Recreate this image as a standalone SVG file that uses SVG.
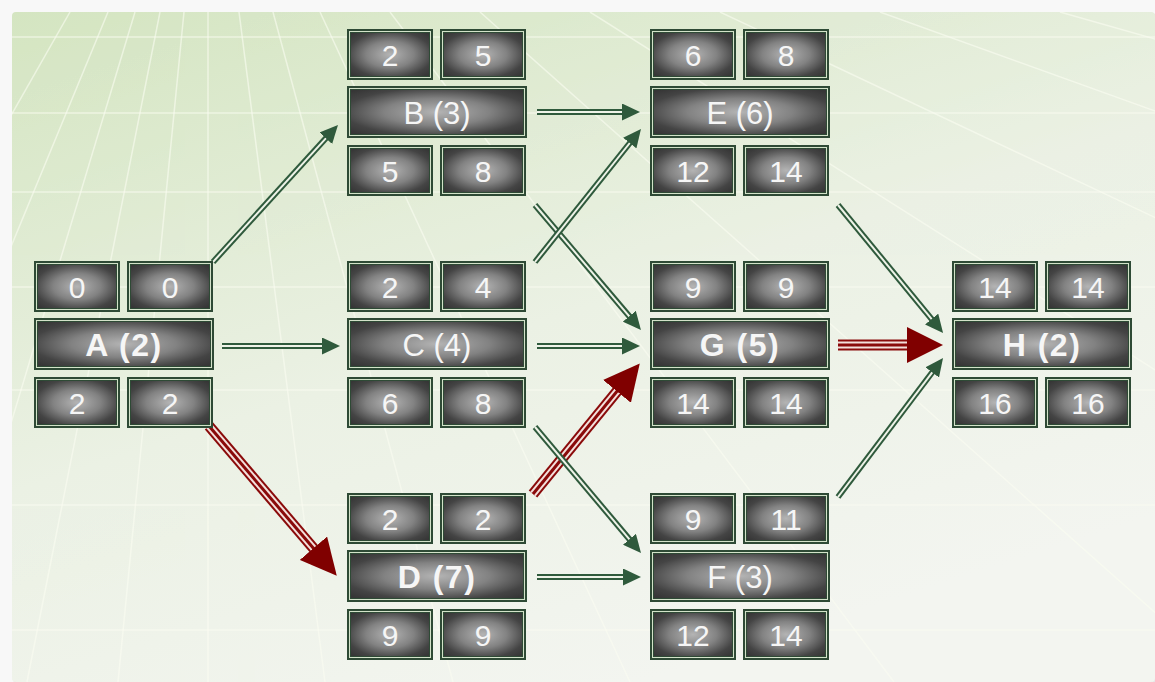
<svg xmlns="http://www.w3.org/2000/svg" width="1155" height="682" viewBox="0 0 1155 682">
<style>
.num{font-family:"Liberation Sans",Arial,sans-serif;font-size:30px;fill:#f6f6f6;text-anchor:middle}
.lbl{font-family:"Liberation Sans",Arial,sans-serif;font-size:31px;fill:#f6f6f6;text-anchor:middle}
.crit{font-weight:bold;font-size:32px;letter-spacing:1.5px}
.grid line{stroke:#fbfdf2;stroke-width:1.5;opacity:0.6}
.go{stroke:#2f5a3c;stroke-width:6;fill:none}
.gi{stroke:#eef3e8;stroke-width:2;fill:none}
.ro{stroke:#8a0a0a;stroke-width:11;fill:none}
.ri{stroke:#f3e0dc;stroke-width:7;fill:none}
.rc{stroke:#8a0a0a;stroke-width:3;fill:none}
</style>
<defs>
<linearGradient id="bg" x1="0" y1="0" x2="0.55" y2="1">
<stop offset="0" stop-color="#d4e5c1"/>
<stop offset="0.55" stop-color="#ebf1e4"/>
<stop offset="1" stop-color="#f3f5f0"/>
</linearGradient>
<radialGradient id="gs" cx="0.5" cy="0.5" r="0.68">
<stop offset="0" stop-color="#b4b4b4"/>
<stop offset="0.45" stop-color="#828282"/>
<stop offset="0.8" stop-color="#444444"/>
<stop offset="1" stop-color="#363636"/>
</radialGradient>
<clipPath id="pc"><rect x="12" y="12" width="1143" height="670" rx="4"/></clipPath>
<g id="sbox">
<rect width="86" height="51" fill="#2e4a35"/>
<rect x="2.5" y="2.5" width="81" height="46" fill="none" stroke="#d3e2c9" stroke-width="1"/>
<rect x="4" y="4" width="78" height="43" fill="url(#gs)"/>
</g>
<g id="wbox">
<rect width="180" height="52" fill="#2e4a35"/>
<rect x="2.5" y="2.5" width="175" height="47" fill="none" stroke="#d3e2c9" stroke-width="1"/>
<rect x="4" y="4" width="172" height="44" fill="url(#gs)"/>
</g>
<marker id="ag" markerUnits="userSpaceOnUse" markerWidth="18" markerHeight="17" viewBox="0 0 18 17" refX="2" refY="8.5" orient="auto">
<path d="M0,0 L18,8.5 L0,17 Z" fill="#2f5a3c"/>
</marker>
<marker id="ar" markerUnits="userSpaceOnUse" markerWidth="36" markerHeight="36" viewBox="0 0 36 36" refX="4" refY="18" orient="auto">
<path d="M0,0 L36,18 L0,36 Z" fill="#800000"/>
</marker>
</defs>

<rect width="1155" height="682" fill="#f8f8f8"/>
<rect x="13" y="13" width="1143" height="670" rx="4" fill="#e6e6e6"/>
<rect x="12" y="12" width="1143" height="670" rx="4" fill="url(#bg)"/>

<g class="grid" clip-path="url(#pc)">
<line x1="70" y1="12" x2="-312" y2="682"/>
<line x1="108" y1="12" x2="-169" y2="682"/>
<line x1="135" y1="12" x2="-67" y2="682"/>
<line x1="160" y1="12" x2="27" y2="682"/>
<line x1="184" y1="12" x2="118" y2="682"/>
<line x1="208" y1="12" x2="208" y2="682"/>
<line x1="239" y1="12" x2="325" y2="682"/>
<line x1="273" y1="12" x2="453" y2="682"/>
<line x1="320" y1="12" x2="630" y2="682"/>
<line x1="390" y1="12" x2="894" y2="682"/>
<line x1="480" y1="12" x2="1233" y2="682" opacity="0.45"/>
<line x1="590" y1="12" x2="1648" y2="682" opacity="0.4"/>
<line x1="720" y1="12" x2="2138" y2="682" opacity="0.35"/>
<line x1="880" y1="12" x2="2741" y2="682" opacity="0.3"/>
<line x1="1060" y1="12" x2="3419" y2="682" opacity="0.3"/>
<line x1="12" y1="37" x2="1155" y2="37"/>
<line x1="12" y1="113" x2="1155" y2="113"/>
<line x1="12" y1="192" x2="1155" y2="192"/>
<line x1="12" y1="287" x2="1155" y2="287"/>
<line x1="12" y1="390" x2="1155" y2="390"/>
<line x1="12" y1="505" x2="1155" y2="505"/>
<line x1="12" y1="630" x2="1155" y2="630"/>
</g>

<g id="connectors">
<g id="e-A-D"><path class="ro" d="M209,426 L316,551.3"/><path class="ri" d="M209,426 L316,551.3"/><path class="rc" d="M209,426 L316,551.3" marker-end="url(#ar)"/></g>
<g id="e-D-G"><path class="ro" d="M533,494 L619.5,388.3"/><path class="ri" d="M533,494 L619.5,388.3"/><path class="rc" d="M533,494 L619.5,388.3" marker-end="url(#ar)"/></g>
<g id="e-G-H"><path class="ro" d="M838,345 L911,345"/><path class="ri" d="M838,345 L911,345"/><path class="rc" d="M838,345 L911,345" marker-end="url(#ar)"/></g>

<g id="e-A-B"><path class="go" d="M213,262 L327.2,136.8"/><path class="gi" d="M213,262 L327.2,136.8" marker-end="url(#ag)"/></g>
<g id="e-A-C"><path class="go" d="M222,346 L324,346"/><path class="gi" d="M222,346 L324,346" marker-end="url(#ag)"/></g>
<g id="e-B-E"><path class="go" d="M537,112 L624,112"/><path class="gi" d="M537,112 L624,112" marker-end="url(#ag)"/></g>
<g id="e-B-G"><path class="go" d="M535,205 L630.6,317.8"/><path class="gi" d="M535,205 L630.6,317.8" marker-end="url(#ag)"/></g>
<g id="e-C-E"><path class="go" d="M535,262 L631,141.5"/><path class="gi" d="M535,262 L631,141.5" marker-end="url(#ag)"/></g>
<g id="e-C-G"><path class="go" d="M537,346 L624,346"/><path class="gi" d="M537,346 L624,346" marker-end="url(#ag)"/></g>
<g id="e-C-F"><path class="go" d="M535,427 L630.7,540.8"/><path class="gi" d="M535,427 L630.7,540.8" marker-end="url(#ag)"/></g>
<g id="e-D-F"><path class="go" d="M537,577 L625,577"/><path class="gi" d="M537,577 L625,577" marker-end="url(#ag)"/></g>
<g id="e-E-H"><path class="go" d="M838,205 L932.9,320.6"/><path class="gi" d="M838,205 L932.9,320.6" marker-end="url(#ag)"/></g>
<g id="e-F-H"><path class="go" d="M838,497 L933.4,370.8"/><path class="gi" d="M838,497 L933.4,370.8" marker-end="url(#ag)"/></g>
</g>

<g id="node-A" transform="translate(34,261)">
<use href="#sbox"/><use href="#sbox" x="93"/><use href="#wbox" y="57"/><use href="#sbox" y="116"/><use href="#sbox" x="93" y="116"/>
<text class="num" x="43" y="36.5">0</text><text class="num" x="136" y="36.5">0</text>
<text class="lbl crit" x="90" y="94.5">A (2)</text>
<text class="num" x="43" y="152.5">2</text><text class="num" x="136" y="152.5">2</text>
</g>

<g id="node-B" transform="translate(347,29)">
<use href="#sbox"/><use href="#sbox" x="93"/><use href="#wbox" y="57"/><use href="#sbox" y="116"/><use href="#sbox" x="93" y="116"/>
<text class="num" x="43" y="36.5">2</text><text class="num" x="136" y="36.5">5</text>
<text class="lbl" x="90" y="94.5">B (3)</text>
<text class="num" x="43" y="152.5">5</text><text class="num" x="136" y="152.5">8</text>
</g>

<g id="node-C" transform="translate(347,261)">
<use href="#sbox"/><use href="#sbox" x="93"/><use href="#wbox" y="57"/><use href="#sbox" y="116"/><use href="#sbox" x="93" y="116"/>
<text class="num" x="43" y="36.5">2</text><text class="num" x="136" y="36.5">4</text>
<text class="lbl" x="90" y="94.5">C (4)</text>
<text class="num" x="43" y="152.5">6</text><text class="num" x="136" y="152.5">8</text>
</g>

<g id="node-D" transform="translate(347,493)">
<use href="#sbox"/><use href="#sbox" x="93"/><use href="#wbox" y="57"/><use href="#sbox" y="116"/><use href="#sbox" x="93" y="116"/>
<text class="num" x="43" y="36.5">2</text><text class="num" x="136" y="36.5">2</text>
<text class="lbl crit" x="90" y="94.5">D (7)</text>
<text class="num" x="43" y="152.5">9</text><text class="num" x="136" y="152.5">9</text>
</g>

<g id="node-E" transform="translate(650,29)">
<use href="#sbox"/><use href="#sbox" x="93"/><use href="#wbox" y="57"/><use href="#sbox" y="116"/><use href="#sbox" x="93" y="116"/>
<text class="num" x="43" y="36.5">6</text><text class="num" x="136" y="36.5">8</text>
<text class="lbl" x="90" y="94.5">E (6)</text>
<text class="num" x="43" y="152.5">12</text><text class="num" x="136" y="152.5">14</text>
</g>

<g id="node-G" transform="translate(650,261)">
<use href="#sbox"/><use href="#sbox" x="93"/><use href="#wbox" y="57"/><use href="#sbox" y="116"/><use href="#sbox" x="93" y="116"/>
<text class="num" x="43" y="36.5">9</text><text class="num" x="136" y="36.5">9</text>
<text class="lbl crit" x="90" y="94.5">G (5)</text>
<text class="num" x="43" y="152.5">14</text><text class="num" x="136" y="152.5">14</text>
</g>

<g id="node-F" transform="translate(650,493)">
<use href="#sbox"/><use href="#sbox" x="93"/><use href="#wbox" y="57"/><use href="#sbox" y="116"/><use href="#sbox" x="93" y="116"/>
<text class="num" x="43" y="36.5">9</text><text class="num" x="136" y="36.5">11</text>
<text class="lbl" x="90" y="94.5">F (3)</text>
<text class="num" x="43" y="152.5">12</text><text class="num" x="136" y="152.5">14</text>
</g>

<g id="node-H" transform="translate(952,261)">
<use href="#sbox"/><use href="#sbox" x="93"/><use href="#wbox" y="57"/><use href="#sbox" y="116"/><use href="#sbox" x="93" y="116"/>
<text class="num" x="43" y="36.5">14</text><text class="num" x="136" y="36.5">14</text>
<text class="lbl crit" x="90" y="94.5">H (2)</text>
<text class="num" x="43" y="152.5">16</text><text class="num" x="136" y="152.5">16</text>
</g>
</svg>
